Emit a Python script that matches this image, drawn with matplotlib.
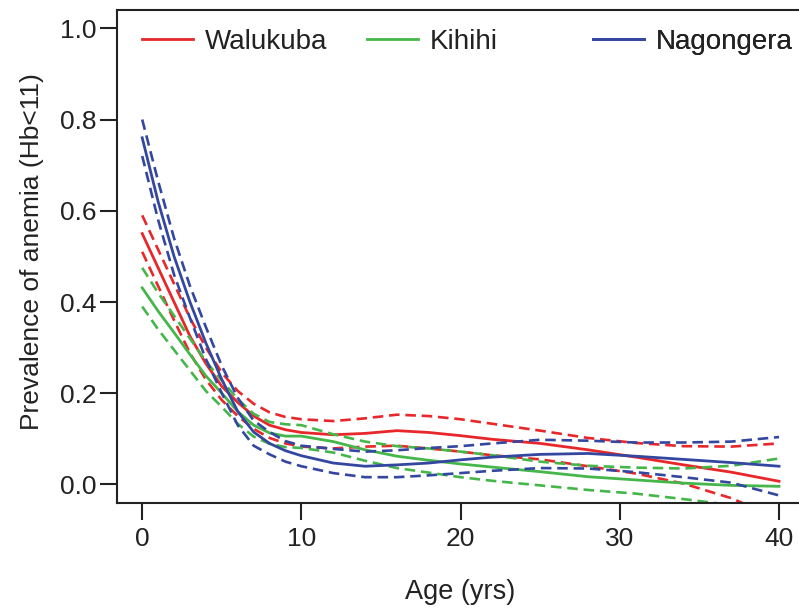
import matplotlib
matplotlib.use("Agg")
import matplotlib.pyplot as plt
from matplotlib.lines import Line2D

plt.rcParams['font.family'] = ['Liberation Sans', 'DejaVu Sans']

# age grid (yrs)
age = [0, 1, 2, 3, 4, 5, 6, 7, 8, 9, 10, 12, 14, 16, 18, 20, 22, 25, 28, 31, 34, 37, 40]

walukuba = [0.55, 0.475, 0.40, 0.325, 0.265, 0.215, 0.18, 0.15, 0.13, 0.12, 0.114, 0.109,
            0.112, 0.118, 0.114, 0.107, 0.099, 0.09, 0.076, 0.06, 0.043, 0.027, 0.007]
walukuba_hi = [0.59, 0.515, 0.44, 0.365, 0.30, 0.245, 0.205, 0.177, 0.158, 0.148, 0.143, 0.139,
               0.145, 0.153, 0.15, 0.143, 0.133, 0.118, 0.102, 0.091, 0.084, 0.083, 0.09]
walukuba_lo = [0.51, 0.435, 0.36, 0.288, 0.23, 0.185, 0.15, 0.122, 0.102, 0.09, 0.083, 0.079,
               0.083, 0.085, 0.079, 0.072, 0.064, 0.055, 0.04, 0.024, 0.002, -0.03, -0.075]

kihihi = [0.431, 0.38, 0.333, 0.285, 0.238, 0.2, 0.16, 0.13, 0.113, 0.106, 0.106, 0.094,
          0.076, 0.062, 0.053, 0.045, 0.038, 0.028, 0.017, 0.01, 0.003, -0.002, -0.004]
kihihi_hi = [0.475, 0.42, 0.37, 0.32, 0.27, 0.228, 0.187, 0.155, 0.137, 0.132, 0.13, 0.11,
             0.094, 0.084, 0.079, 0.072, 0.064, 0.05, 0.041, 0.037, 0.035, 0.041, 0.057]
kihihi_lo = [0.39, 0.34, 0.295, 0.25, 0.205, 0.17, 0.133, 0.105, 0.089, 0.082, 0.08, 0.07,
             0.052, 0.036, 0.026, 0.016, 0.008, -0.002, -0.012, -0.02, -0.032, -0.045, -0.06]

nagongera = [0.76, 0.62, 0.50, 0.40, 0.31, 0.23, 0.16, 0.115, 0.09, 0.074, 0.063, 0.047,
             0.04, 0.043, 0.047, 0.054, 0.06, 0.066, 0.068, 0.062, 0.055, 0.048, 0.04]
nagongera_hi = [0.80, 0.665, 0.54, 0.435, 0.345, 0.26, 0.19, 0.14, 0.115, 0.095, 0.085, 0.078,
                0.072, 0.075, 0.08, 0.084, 0.09, 0.098, 0.096, 0.092, 0.092, 0.094, 0.104]
nagongera_lo = [0.72, 0.58, 0.46, 0.365, 0.275, 0.2, 0.13, 0.085, 0.066, 0.05, 0.04, 0.025,
                0.016, 0.016, 0.02, 0.025, 0.03, 0.036, 0.035, 0.027, 0.016, 0.004, -0.024]

sites = ["Walukuba", "Kihihi", "Nagongera"]
colors = ["#E8272A", "#45B649", "#3447A0"]
fits = [walukuba, kihihi, nagongera]
his = [walukuba_hi, kihihi_hi, nagongera_hi]
los = [walukuba_lo, kihihi_lo, nagongera_lo]

xticks = [0, 10, 20, 30, 40]
yticks = [0.0, 0.2, 0.4, 0.6, 0.8, 1.0]

fig = plt.figure(figsize=(7.99, 6.09), dpi=100)
# axes box runs slightly past the right edge, like the cropped original
ax = fig.add_axes([0.1461, 0.1745, 0.8608, 0.8090])

dash = (0, (4, 2.2))
for fit, hi, lo, c in zip(fits, his, los, colors):
    ax.plot(age, hi, color=c, lw=1.9, linestyle=dash)
    ax.plot(age, lo, color=c, lw=1.9, linestyle=dash)
    ax.plot(age, fit, color=c, lw=2.0)

ax.set_xlim(-1.6, 41.6)
ax.set_ylim(-0.04, 1.04)
ax.set_xticks(xticks)
ax.set_yticks(yticks)
ax.set_yticklabels([f"{v:.1f}" for v in yticks])

txt = "#222222"
for s in ax.spines.values():
    s.set_linewidth(1.5)
    s.set_color(txt)
ax.tick_params(axis='both', length=12.2, width=1.5, color=txt, labelcolor=txt, labelsize=19)
ax.tick_params(axis='y', pad=2.4)
ax.tick_params(axis='x', pad=5)

ax.set_xlabel("Age (yrs)", fontsize=19.5, color=txt)
ax.xaxis.set_label_coords(0.5, -0.181)
ax.xaxis.label.set_va('center')
ax.set_ylabel("Prevalence of anemia (Hb<11)", fontsize=19, color=txt)
ax.yaxis.set_label_coords(-0.123, 0.509)
ax.yaxis.label.set_va('center')

# three separate legend entries, evenly spaced like the original
leg_x = [0.0363, 0.3635, 0.6925]
for name, c, lx in zip(sites, colors, leg_x):
    h = Line2D([], [], color=c, lw=2.0)
    leg = ax.legend([h], [name], loc='center left', bbox_to_anchor=(lx, 0.935),
                    frameon=False, fontsize=20, handlelength=1.84, handletextpad=0.43,
                    borderpad=0, borderaxespad=0, labelcolor=txt)
    ax.add_artist(leg)

fig.savefig("out.png", dpi=100)
